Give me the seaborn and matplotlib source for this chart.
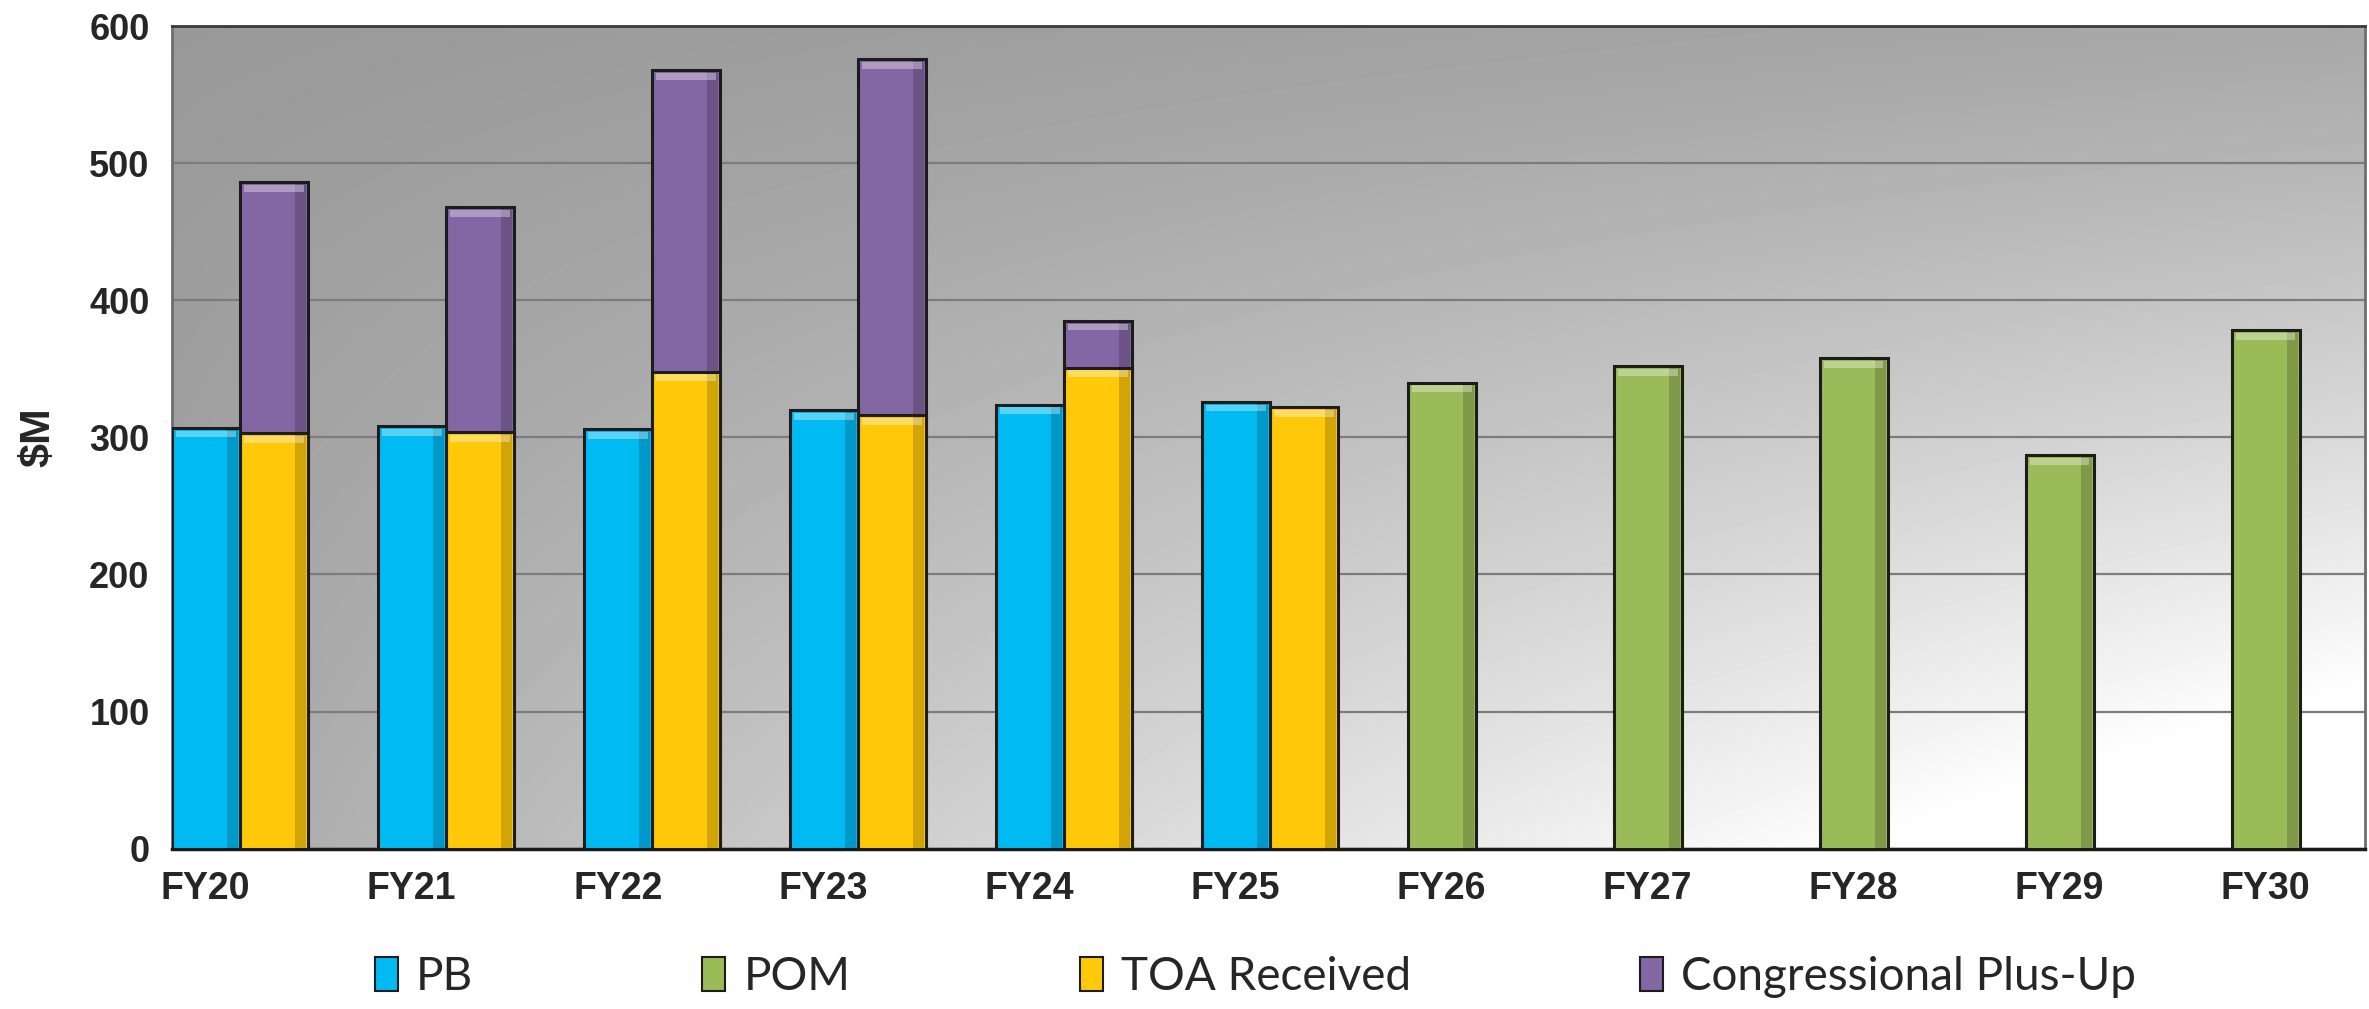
import numpy as np
import pandas as pd
import matplotlib
matplotlib.use('Agg')
import matplotlib.pyplot as plt
from matplotlib.patches import Patch, Rectangle
import seaborn as sns

# values ($M)
years = ['FY20', 'FY21', 'FY22', 'FY23', 'FY24', 'FY25', 'FY26', 'FY27', 'FY28', 'FY29', 'FY30']
pb_years = ['FY20', 'FY21', 'FY22', 'FY23', 'FY24', 'FY25']
pb = [307, 308, 306, 320, 324, 326]
toa_years = ['FY20', 'FY21', 'FY22', 'FY23', 'FY24', 'FY25']
toa = [303, 304, 348, 316, 351, 322]
plus_years = ['FY20', 'FY21', 'FY22', 'FY23', 'FY24']
plus_up = [183, 164, 220, 260, 34]
pom_years = ['FY26', 'FY27', 'FY28', 'FY29', 'FY30']
pom = [340, 352, 358, 287, 378]
yticks = [0, 100, 200, 300, 400, 500, 600]

COLORS = {'PB': '#00BAF2', 'POM': '#9BBB59', 'TOA': '#FFC90A', 'Plus': '#8366A4'}
EDGE = '#1c1c1c'
BW = 0.33  # bar width in category units

sns.set_style('white')
plt.rcParams['font.family'] = ['Liberation Sans', 'DejaVu Sans']

fig = plt.figure(figsize=(23.69, 10.09), dpi=100)
ax = fig.add_axes([0.0725, 0.159, 0.926, 0.815])

# gray gradient background, dark at the top left, white at the bottom right
gx, gy = np.meshgrid(np.linspace(0, 1, 300), np.linspace(0, 1, 200))
shade = 0.60 + 0.06 * gx + 0.05 * gy + 0.38 * (gx ** 0.9) * (gy ** 1.15)
ax.imshow(np.clip(shade, 0, 1), cmap='gray', vmin=0, vmax=1, extent=[0, 1, 0, 1], origin='upper',
          transform=ax.transAxes, aspect='auto', zorder=0, interpolation='bicubic')

pos = {y: i for i, y in enumerate(years)}


def frame(labels, values, offset):
    return pd.DataFrame({'x': [pos[l] + offset for l in labels], 'value': values})


def bevel(patches):
    # light strip on top, shaded right side, like the beveled office bars
    for p in patches:
        x, w, h = p.get_x(), p.get_width(), p.get_height()
        ax.add_patch(Rectangle((x + w * 0.82, 0), w * 0.16, h - 1, color='black',
                               alpha=0.18, lw=0, zorder=p.get_zorder() + 0.1))
        ax.add_patch(Rectangle((x + w * 0.06, h - 7), w * 0.88, 5, color='white',
                               alpha=0.35, lw=0, zorder=p.get_zorder() + 0.1))


total = [t + p for t, p in zip(toa[:len(plus_up)], plus_up)]
kw = dict(x='x', y='value', native_scale=True, width=BW, errorbar=None, saturation=1,
          edgecolor=EDGE, linewidth=2.2, ax=ax)
series = [(plus_years, total, 1.5 * BW, 'Plus', 3),
          (toa_years, toa, 1.5 * BW, 'TOA', 4),
          (pb_years, pb, 0.5 * BW, 'PB', 4),
          (pom_years, pom, 0.5 * BW, 'POM', 4)]
for labels, values, off, key, z in series:
    n0 = len(ax.patches)
    sns.barplot(data=frame(labels, values, off), color=COLORS[key], zorder=z, **kw)
    bevel(list(ax.patches[n0:]))

ax.set_xlim(0, 10.65)
ax.set_ylim(0, 600)
ax.set_yticks(yticks)
ax.set_yticklabels([str(v) for v in yticks], fontsize=26, fontweight='bold')
ax.yaxis.grid(True, color='#7c7c7c', linewidth=1.6, zorder=1)
ax.set_axisbelow(True)

# tick marks on category boundaries, labels under the first bar
ax.set_xticks(range(len(years)))
ax.set_xticklabels([])
ax.set_xticks([i + 0.5 * BW for i in range(len(years))], minor=True)
ax.set_xticklabels(years, minor=True, fontsize=27, fontweight='bold')
ax.tick_params(axis='x', which='major', length=10, width=1.5, color='#8a8a8a', direction='out')
ax.tick_params(axis='x', which='minor', length=0, pad=16)
ax.tick_params(axis='y', length=10, width=1.5, color='#8a8a8a', direction='out', pad=6)
ax.set_xlabel('')
ax.set_ylabel('$M', fontsize=31, fontweight='bold', labelpad=22)

for side in ['top', 'right', 'left']:
    ax.spines[side].set_color('#6e6e6e')
    ax.spines[side].set_linewidth(2)
ax.spines['bottom'].set_color('#1a1a1a')
ax.spines['bottom'].set_linewidth(2.5)
ax.spines['top'].set_color('#3a3a3a')

handles = [Patch(facecolor=COLORS[k], edgecolor=EDGE, linewidth=1.5) for k in ['PB', 'POM', 'TOA', 'Plus']]
fig.legend(handles, ['PB', 'POM', 'TOA Received', 'Congressional Plus-Up'],
           loc='lower center', bbox_to_anchor=(0.53, -0.03), ncol=4, frameon=False,
           prop={'family': 'Lato', 'size': 33}, handlelength=0.5, handleheight=0.75,
           handletextpad=0.4, columnspacing=5.0)

fig.savefig('out.png', dpi=100)
